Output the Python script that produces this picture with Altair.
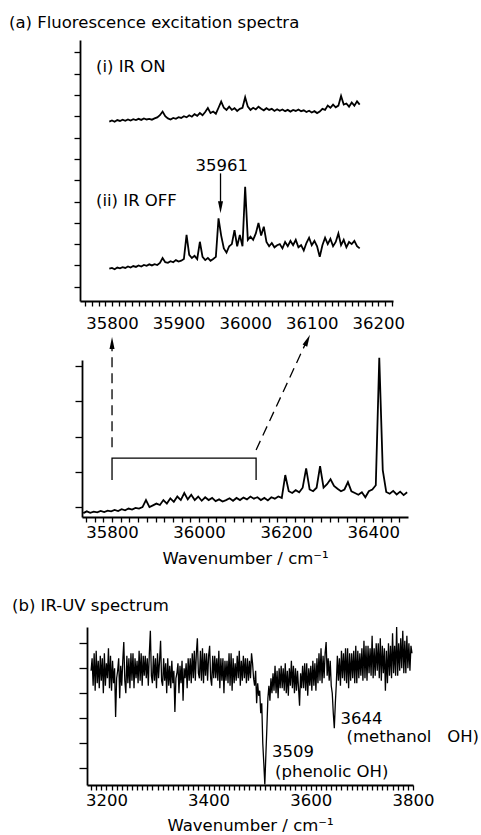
import altair as alt
import pandas as pd

FONT = "DejaVu Sans"
FS = 16.5
INK = "black"
HEAD = "M0,-1L0.42,1L-0.42,1Z"

# ---------------- (a) upper panel: zoomed excitation spectra ----------------
zoom_wn = [35796, 35800, 35804, 35808, 35812, 35816, 35820, 35824, 35828, 35832,
           35836, 35840, 35844, 35848, 35852, 35856, 35860, 35864, 35868, 35872,
           35876, 35880, 35884, 35888, 35892, 35896, 35900, 35904, 35908, 35912,
           35916, 35920, 35924, 35928, 35932, 35936, 35940, 35944, 35948, 35952,
           35956, 35960, 35964, 35968, 35972, 35976, 35980, 35984, 35988, 35992,
           35996, 36000, 36004, 36008, 36012, 36016, 36020, 36024, 36028, 36032,
           36036, 36040, 36044, 36048, 36052, 36056, 36060, 36064, 36068, 36072,
           36076, 36080, 36084, 36088, 36092, 36096, 36100, 36104, 36108, 36112,
           36116, 36120, 36124, 36128, 36132, 36136, 36140, 36144, 36148, 36152,
           36156, 36160, 36164, 36168, 36172]

ir_on = [7.75, 7.80, 7.74, 7.82, 7.78, 7.84, 7.79, 7.85, 7.80, 7.86,
         7.82, 7.88, 7.83, 7.90, 7.85, 7.88, 7.84, 7.90, 7.95, 8.05,
         8.22, 8.00, 7.90, 7.85, 7.92, 7.88, 7.96, 7.92, 8.00, 7.95,
         8.05, 7.98, 8.10, 8.02, 8.15, 8.05, 8.20, 8.39, 8.15, 8.22,
         8.12, 8.40, 8.69, 8.40, 8.30, 8.45, 8.30, 8.38, 8.25, 8.35,
         8.40, 8.89, 8.45, 8.30, 8.40, 8.32, 8.45, 8.35, 8.28, 8.38,
         8.30, 8.35, 8.25, 8.33, 8.26, 8.32, 8.24, 8.30, 8.22, 8.30,
         8.25, 8.32, 8.24, 8.28, 8.20, 8.26, 8.18, 8.24, 8.15, 8.22,
         8.35, 8.30, 8.50, 8.40, 8.55, 8.42, 8.50, 8.95, 8.55, 8.60,
         8.45, 8.65, 8.50, 8.70, 8.55]

ir_off = [0.85, 0.88, 0.82, 0.90, 0.86, 0.92, 0.88, 0.95, 0.90, 0.97,
          0.93, 1.00, 0.95, 1.02, 0.98, 1.05, 1.00, 1.06, 1.02, 1.12,
          1.35, 1.15, 1.12, 1.20, 1.15, 1.25, 1.18, 1.22, 1.30, 2.43,
          1.50, 1.35, 1.45, 1.30, 2.11, 1.40, 1.25, 1.35, 1.22, 1.30,
          1.40, 3.21, 2.40, 1.80, 1.60, 1.90, 2.00, 2.66, 1.90, 2.43,
          1.90, 4.69, 2.20, 2.35, 2.20, 2.50, 2.99, 2.40, 2.82, 2.10,
          1.90, 2.05, 1.85, 1.95, 2.00, 1.80, 2.10, 1.90, 2.15, 1.95,
          2.20, 1.85, 1.95, 1.70, 2.05, 2.30, 1.95, 2.15, 1.90, 1.40,
          1.95, 2.30, 2.00, 2.25, 1.90, 2.10, 2.50, 1.95, 2.20, 1.85,
          2.10, 2.00, 2.15, 1.90, 1.80]

zoom_left_labels = ["(i) IR ON", "(ii) IR OFF"]
zoom_left_x = [35776, 35776]
zoom_left_y = [10.07, 3.80]
peak_label = ["35961"]
peak_label_x = [35965]
peak_label_y = [5.43]
peak_arrow_x = [35963]
peak_arrow_top = [5.32]
peak_arrow_head = [3.73]

# ---------------- (a) lower panel: full excitation spectrum ----------------
full_wn = [35734, 35742, 35750, 35758, 35766, 35774, 35782, 35790, 35798, 35806,
           35814, 35822, 35830, 35838, 35846, 35854, 35862, 35870, 35878, 35886,
           35894, 35902, 35910, 35918, 35926, 35934, 35942, 35950, 35958, 35966,
           35974, 35982, 35990, 35998, 36006, 36014, 36022, 36030, 36038, 36046,
           36054, 36062, 36070, 36078, 36086, 36094, 36102, 36110, 36118, 36126,
           36134, 36142, 36150, 36158, 36166, 36174, 36182, 36190, 36198, 36206,
           36214, 36222, 36230, 36238, 36246, 36254, 36262, 36270, 36278, 36286,
           36294, 36302, 36310, 36318, 36326, 36334, 36342, 36350, 36358, 36366,
           36374, 36382, 36390, 36398, 36406, 36414, 36422, 36430, 36438, 36446,
           36454, 36462, 36470, 36478]

full_int = [-0.17, -0.12, -0.16, -0.13, -0.15, -0.11, -0.14, -0.10, -0.12, -0.08,
            -0.11, -0.06, -0.09, -0.04, -0.07, -0.02, -0.04, 0.00, 0.20, 0.00,
            0.05, 0.10, 0.06, 0.20, 0.10, 0.25, 0.15, 0.30, 0.20, 0.40,
            0.22, 0.35, 0.20, 0.30, 0.18, 0.28, 0.20, 0.26, 0.17, 0.22,
            0.16, 0.20, 0.25, 0.18, 0.26, 0.20, 0.27, 0.22, 0.30, 0.24,
            0.28, 0.20, 0.26, 0.19, 0.28, 0.24, 0.30, 0.26, 0.91, 0.45,
            0.40, 0.48, 0.42, 0.55, 1.10, 0.50, 0.45, 0.55, 1.16, 0.55,
            0.65, 0.79, 0.60, 0.52, 0.45, 0.50, 0.71, 0.45, 0.40, 0.35,
            0.42, 0.28, 0.45, 0.50, 0.62, 4.23, 1.05, 0.43, 0.38, 0.46,
            0.36, 0.44, 0.34, 0.42]

bracket_x = [35800, 35800, 36131, 36131]
bracket_y = [0.77, 1.39, 1.39, 0.77]
bracket_order = [0, 1, 2, 3]
dash_x = [35800, 36131]
dash_y = [1.70, 1.62]
dash_x2 = [35800, 36247]
dash_y2 = [4.62, 4.70]
head_x = [35800, 36249]
head_y = [4.65, 4.73]
head_angle = [0, 25]

# ---------------- (b) IR-UV spectrum ----------------
iruv_wn = [3170, 3172, 3174, 3176, 3178, 3180, 3182, 3184, 3186, 3188,
           3190, 3192, 3194, 3196, 3198, 3200, 3202, 3204, 3206, 3208,
           3210, 3212, 3214, 3216, 3218, 3220, 3222, 3224, 3226, 3228,
           3230, 3232, 3234, 3236, 3238, 3240, 3242, 3244, 3246, 3248,
           3250, 3252, 3254, 3256, 3258, 3260, 3262, 3264, 3266, 3268,
           3270, 3272, 3274, 3276, 3278, 3280, 3282, 3284, 3286, 3288,
           3290, 3292, 3294, 3296, 3298, 3300, 3302, 3304, 3306, 3308,
           3310, 3312, 3314, 3316, 3318, 3320, 3322, 3324, 3326, 3328,
           3330, 3332, 3334, 3336, 3338, 3340, 3342, 3344, 3346, 3348,
           3350, 3352, 3354, 3356, 3358, 3360, 3362, 3364, 3366, 3368,
           3370, 3372, 3374, 3376, 3378, 3380, 3382, 3384, 3386, 3388,
           3390, 3392, 3394, 3396, 3398, 3400, 3402, 3404, 3406, 3408,
           3410, 3412, 3414, 3416, 3418, 3420, 3422, 3424, 3426, 3428,
           3430, 3432, 3434, 3436, 3438, 3440, 3442, 3444, 3446, 3448,
           3450, 3452, 3454, 3456, 3458, 3460, 3462, 3464, 3466, 3468,
           3470, 3472, 3474, 3476, 3478, 3480, 3482, 3484, 3486, 3488,
           3490, 3492, 3494, 3496, 3498, 3500, 3502, 3504, 3506, 3508,
           3510, 3512, 3514, 3516, 3518, 3520, 3522, 3524, 3526, 3528,
           3530, 3532, 3534, 3536, 3538, 3540, 3542, 3544, 3546, 3548,
           3550, 3552, 3554, 3556, 3558, 3560, 3562, 3564, 3566, 3568,
           3570, 3572, 3574, 3576, 3578, 3580, 3582, 3584, 3586, 3588,
           3590, 3592, 3594, 3596, 3598, 3600, 3602, 3604, 3606, 3608,
           3610, 3612, 3614, 3616, 3618, 3620, 3622, 3624, 3626, 3628,
           3630, 3632, 3634, 3636, 3638, 3640, 3642, 3644, 3646, 3648,
           3650, 3652, 3654, 3656, 3658, 3660, 3662, 3664, 3666, 3668,
           3670, 3672, 3674, 3676, 3678, 3680, 3682, 3684, 3686, 3688,
           3690, 3692, 3694, 3696, 3698, 3700, 3702, 3704, 3706, 3708,
           3710, 3712, 3714, 3716, 3718, 3720, 3722, 3724, 3726, 3728,
           3730, 3732, 3734, 3736, 3738, 3740, 3742, 3744, 3746, 3748,
           3750, 3752, 3754, 3756, 3758, 3760, 3762, 3764, 3766, 3768,
           3770, 3772, 3774, 3776, 3778, 3780, 3782, 3784, 3786, 3788,
           3790, 3792, 3794, 3796, 3798]

iruv_int = [3.9, 4.4, 3.3, 4.6, 3.1, 4.7, 3.4, 4.3, 3.2, 4.5,
            3.5, 4.4, 3.0, 4.6, 3.3, 4.2, 3.6, 4.8, 3.2, 4.5,
            3.1, 4.3, 3.4, 4.0, 2.05, 3.6, 3.9, 4.4, 2.8, 4.1,
            3.3, 4.3, 5.05, 3.5, 3.0, 4.5, 3.4, 4.4, 3.2, 4.6,
            3.5, 4.6, 3.2, 4.4, 3.6, 4.3, 3.4, 4.7, 3.5, 4.6,
            3.3, 4.5, 3.7, 4.5, 3.6, 4.4, 3.3, 4.6, 5.5, 3.7,
            3.4, 4.5, 3.5, 4.4, 3.2, 4.6, 3.6, 4.3, 5.1, 3.5,
            3.3, 4.4, 3.5, 4.2, 3.0, 4.4, 3.3, 4.1, 3.2, 4.3,
            3.4, 3.9, 2.25, 3.6, 3.8, 4.2, 3.0, 4.1, 3.4, 4.3,
            2.7, 4.0, 3.6, 4.2, 3.2, 4.4, 3.5, 4.4, 3.4, 4.6,
            3.6, 4.7, 3.5, 4.6, 5.2, 3.8, 3.6, 4.7, 3.5, 4.8,
            3.4, 4.6, 3.7, 4.6, 3.5, 4.5, 4.9, 3.6, 3.3, 4.5,
            3.6, 4.5, 3.6, 4.4, 3.5, 4.7, 3.2, 4.4, 3.5, 4.4,
            3.0, 4.3, 3.5, 4.3, 3.4, 4.6, 3.3, 4.6, 3.1, 4.4,
            3.4, 4.2, 3.5, 4.5, 3.6, 4.7, 3.3, 4.3, 3.5, 4.5,
            3.6, 4.4, 3.4, 4.4, 3.5, 4.3, 3.6, 4.6, 4.2, 3.6,
            3.3, 3.9, 2.6, 3.4, 2.9, 3.1, 2.2, 2.6, 1.0, 0.2,
            -0.65, 0.5, 1.6, 2.8, 3.3, 2.7, 3.6, 3.0, 3.8, 3.1,
            4.1, 3.0, 3.9, 2.8, 4.0, 3.2, 4.1, 3.2, 4.0, 3.1,
            4.2, 3.0, 3.9, 2.9, 4.0, 3.3, 4.3, 3.2, 4.1, 3.0,
            4.0, 3.1, 3.9, 3.2, 2.5, 3.8, 3.2, 4.1, 3.2, 4.2,
            3.1, 4.2, 2.9, 4.0, 3.3, 4.1, 3.1, 4.3, 3.3, 4.2,
            3.1, 4.4, 3.4, 4.6, 3.5, 4.8, 3.4, 4.5, 3.6, 4.6,
            5.05, 3.7, 4.4, 3.5, 4.3, 3.3, 3.0, 2.2, 1.6, 2.6,
            3.4, 4.5, 3.5, 4.4, 3.3, 4.7, 3.6, 4.6, 3.5, 4.8,
            3.4, 4.8, 3.2, 4.6, 3.5, 4.6, 3.6, 4.7, 3.4, 4.9,
            3.4, 4.7, 3.6, 4.6, 3.7, 4.8, 3.5, 5.1, 3.6, 4.9,
            3.5, 4.9, 3.8, 4.8, 3.7, 5.3, 3.6, 4.8, 3.7, 5.0,
            3.9, 5.0, 3.6, 5.2, 3.5, 4.9, 3.8, 4.8, 3.1, 4.7,
            3.4, 5.0, 3.7, 4.9, 3.6, 5.4, 3.8, 4.9, 3.7, 5.65,
            3.7, 5.0, 3.9, 5.2, 4.0, 5.5, 3.8, 5.1, 3.8, 5.3,
            4.0, 5.0, 3.9, 4.9, 4.6]

iruv_labels = ["3509", "(phenolic OH)", "3644", "(methanol\u00a0\u00a0\u00a0OH)"]
iruv_label_x = [3524, 3530, 3658, 3670]
iruv_label_y = [0.44, -0.33, 1.76, 1.04]

AXIS_TITLE = "Wavenumber / cm\u207b\u00b9"


def xenc(domain, rng, ticks, every, pad, title=None, title_pad=None):
    kw = dict(values=ticks, format="d",
              labelExpr=f"datum.value % {every} == 0 ? datum.label : ''",
              tickSize=5, labelPadding=pad, labelFlush=False, labelOverlap=False)
    if title_pad is not None:
        kw["titlePadding"] = title_pad
    return alt.X("wn:Q", scale=alt.Scale(domain=domain, range=rng, nice=False, zero=False),
                 axis=alt.Axis(**kw), title=title)


def yenc(domain, ticks, tsize, off):
    return alt.Y("v:Q", scale=alt.Scale(domain=domain, nice=False, zero=False),
                 axis=alt.Axis(values=ticks, labels=False, tickSize=tsize, offset=off),
                 title=None)


def line(df, x, y, sw=1.8):
    return alt.Chart(df).mark_line(color=INK, strokeWidth=sw).encode(x=x, y=y)


def texts(df, x, y, align):
    return alt.Chart(df).mark_text(align=align, baseline="alphabetic", font=FONT,
                                   fontSize=FS, color=INK).encode(x=x, y=y, text="t:N")


def heads(df, x, y):
    return alt.Chart(df).mark_point(shape=HEAD, filled=True, size=144, color=INK,
                                    opacity=1, strokeWidth=0).encode(
        x=x, y=y, angle=alt.Angle("ang:Q", scale=None))


# ---- panel 1 ----
x1 = xenc([35752, 36222], [0, 313], list(range(35760, 36221, 10)), 100, 9)
y1 = yenc([-0.67, 11.58], list(range(12)), 6, 0)
p1 = alt.layer(
    line(pd.DataFrame({"wn": zoom_wn, "v": ir_on}), x1, y1),
    line(pd.DataFrame({"wn": zoom_wn, "v": ir_off}), x1, y1),
    texts(pd.DataFrame({"wn": zoom_left_x, "v": zoom_left_y, "t": zoom_left_labels}), x1, y1, "left"),
    texts(pd.DataFrame({"wn": peak_label_x, "v": peak_label_y, "t": peak_label}), x1, y1, "center"),
    alt.Chart(pd.DataFrame({"wn": peak_arrow_x, "v": peak_arrow_top, "v2": peak_arrow_head}))
    .mark_rule(color=INK, strokeWidth=1.3).encode(x=x1, y=y1, y2="v2:Q"),
    heads(pd.DataFrame({"wn": peak_arrow_x, "v": peak_arrow_head, "ang": [180]}), x1, y1),
).properties(
    width=313, height=261,
    title=alt.TitleParams("(a) Fluorescence excitation spectra", anchor="start", frame="group",
                          dx=-71, offset=-4, baseline="alphabetic", font=FONT, fontSize=FS,
                          fontWeight="normal", color=INK),
)

# ---- panel 2 (plot starts 2 px right of panel 1) ----
x2 = xenc([35731, 36480], [2, 328], list(range(35740, 36480, 20)), 200, 2, AXIS_TITLE, 10)
y2 = yenc([-0.28, 4.17], list(range(5)), 7, -2)
p2 = alt.layer(
    line(pd.DataFrame({"wn": full_wn, "v": full_int}), x2, y2),
    alt.Chart(pd.DataFrame({"wn": bracket_x, "v": bracket_y, "o": bracket_order}))
    .mark_line(color=INK, strokeWidth=1.3).encode(x=x2, y=y2, order="o:Q"),
    alt.Chart(pd.DataFrame({"wn": dash_x, "v": dash_y, "wn2": dash_x2, "v2": dash_y2}))
    .mark_rule(color=INK, strokeWidth=1.3, strokeDash=[10, 6])
    .encode(x=x2, y=y2, x2="wn2:Q", y2="v2:Q"),
    heads(pd.DataFrame({"wn": head_x, "v": head_y, "ang": head_angle}), x2, y2),
).properties(width=328, height=157)

# ---- panel 3 (plot starts 7 px right of panel 1) ----
x3 = xenc([3162, 3800], [7, 333], list(range(3170, 3801, 10)), 200, 2, AXIS_TITLE, 8.5)
y3 = yenc([-0.67, 5.65], list(range(6)), 8, -7)
p3 = alt.layer(
    line(pd.DataFrame({"wn": iruv_wn, "v": iruv_int}), x3, y3, 1.3),
    texts(pd.DataFrame({"wn": iruv_label_x, "v": iruv_label_y, "t": iruv_labels}), x3, y3, "left"),
).properties(
    width=333, height=158,
    title=alt.TitleParams("(b) IR-UV spectrum", anchor="start", frame="group",
                          dx=-68, offset=-3, baseline="alphabetic", font=FONT, fontSize=FS,
                          fontWeight="normal", color=INK),
)


def spacer(h):
    return alt.Chart(pd.DataFrame({"s": [0]})).mark_point(opacity=0).encode(
        x=alt.value(0), y=alt.value(0)).properties(width=1, height=h)


chart = alt.vconcat(
    p1, spacer(59), p2, spacer(110), p3,
    spacing=0, bounds="flush",
).properties(
    padding={"left": 9, "top": 14, "right": 0, "bottom": 0}
).configure_view(stroke=None).configure_axis(
    grid=False, domainColor=INK, tickColor=INK, labelColor=INK, titleColor=INK,
    labelFont=FONT, titleFont=FONT, labelFontSize=FS, titleFontSize=FS,
    titleFontWeight="normal", domainWidth=1.8, tickWidth=1.3,
)

chart.save("out.html", embed_options={"renderer": "svg", "actions": False})
